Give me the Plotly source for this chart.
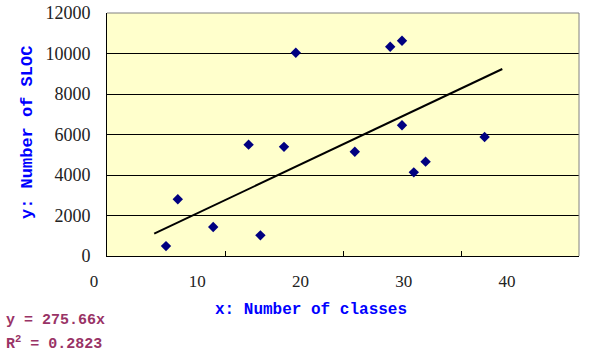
import plotly.graph_objects as go

# Number of classes vs. source lines of code for each program
classes = [5, 6, 9, 12, 13, 15, 16, 21, 24, 25, 25, 26, 27, 32]
sloc = [490, 2800, 1430, 5500, 1020, 5390, 10040, 5150, 10330, 10630, 6460, 4130, 4660, 5880]

# Linear trend through the origin
slope = 275.66
r_squared = 0.2823
trend_x = [4, 33.5]
trend_y = [slope * v for v in trend_x]

x_ticks = [0, 10, 20, 30, 40]
y_ticks = [0, 2000, 4000, 6000, 8000, 10000, 12000]

x_title = "x: Number of classes"
y_title = "y: Number of SLOC"

# Canvas geometry (pixels)
W, H = 596, 355
L, R, T, B = 60, 17, 13, 99


def fx(px):
    return (px - L) / (W - L - R)


def fy(py):
    return (H - B - py) / (H - T - B)


ytick_font = dict(family="Liberation Serif", size=18, color="#222222")
xtick_font = dict(family="Liberation Serif", size=17, color="#222222")
title_font = dict(family="Liberation Mono", size=16, color="#0000FF")
eq_font = dict(family="Liberation Mono", size=15, color="#993366")

fig = go.Figure()

fig.add_trace(go.Scatter(
    x=classes, y=sloc, mode="markers",
    marker=dict(symbol="diamond", size=8, color="#000080"),
    showlegend=False, xaxis="x", yaxis="y",
))
fig.add_trace(go.Scatter(
    x=trend_x, y=trend_y, mode="lines",
    line=dict(color="black", width=2),
    showlegend=False, xaxis="x", yaxis="y",
))
# carrier for the label axis of the x values
fig.add_trace(go.Scatter(
    x=x_ticks, y=[None] * len(x_ticks), mode="markers",
    showlegend=False, hoverinfo="skip", xaxis="x2", yaxis="y2",
))

fig.update_layout(
    width=W, height=H,
    margin=dict(l=L, r=R, t=T, b=B),
    paper_bgcolor="white",
    plot_bgcolor="rgba(0,0,0,0)",
    xaxis=dict(
        domain=[fx(107), 1], range=[0, 40], tickvals=x_ticks,
        showticklabels=False, ticks="inside", ticklen=5, tickcolor="black",
        showline=True, linecolor="black", linewidth=1,
        showgrid=False, zeroline=False, anchor="y", automargin=False,
    ),
    yaxis=dict(
        domain=[0, 1], range=[0, 12000], tickvals=y_ticks, tickformat="d",
        ticks="inside", ticklen=5, tickcolor="black",
        showline=True, linecolor="black", linewidth=1,
        showgrid=True, gridcolor="black", gridwidth=1,
        zeroline=False, tickfont=ytick_font, ticklabelstandoff=12,
        anchor="x", automargin=False,
    ),
    xaxis2=dict(
        domain=[fx(94), fx(507)], range=[0, 40], tickvals=x_ticks,
        showline=False, showgrid=False, zeroline=False, ticks="",
        tickfont=xtick_font, ticklabelstandoff=13, anchor="y2", automargin=False,
    ),
    yaxis2=dict(domain=[0, 1], range=[0, 1], visible=False, anchor="x2",
                automargin=False),
    shapes=[
        dict(type="rect", xref="x domain", yref="y domain", x0=0, x1=1, y0=0, y1=1,
             fillcolor="#FFFFCC", line=dict(width=0), layer="below"),
        dict(type="line", xref="x domain", yref="y domain", x0=0, x1=1, y0=1, y1=1,
             line=dict(color="#808080", width=1), layer="above"),
        dict(type="line", xref="x domain", yref="y domain", x0=1, x1=1, y0=0, y1=1,
             line=dict(color="#808080", width=1), layer="above"),
    ],
    annotations=[
        dict(text=f"<b>{x_title}</b>", xref="paper", yref="paper",
             x=fx(311), y=fy(310), showarrow=False, font=title_font,
             xanchor="center", yanchor="middle"),
        dict(text=f"<b>{y_title}</b>", xref="paper", yref="paper",
             x=fx(27), y=fy(133), showarrow=False, font=dict(title_font, size=17),
             textangle=-90, xanchor="center", yanchor="middle"),
        dict(text=f"<b>y = {slope}x</b>", xref="paper", yref="paper",
             x=fx(4), y=fy(320), showarrow=False, font=eq_font,
             xanchor="left", yanchor="middle"),
        dict(text=f"<b>R<sup>2</sup> = {r_squared}</b>", xref="paper", yref="paper",
             x=fx(4), y=fy(343), showarrow=False, font=eq_font,
             xanchor="left", yanchor="middle"),
    ],
)

fig.write_html("out.html")
